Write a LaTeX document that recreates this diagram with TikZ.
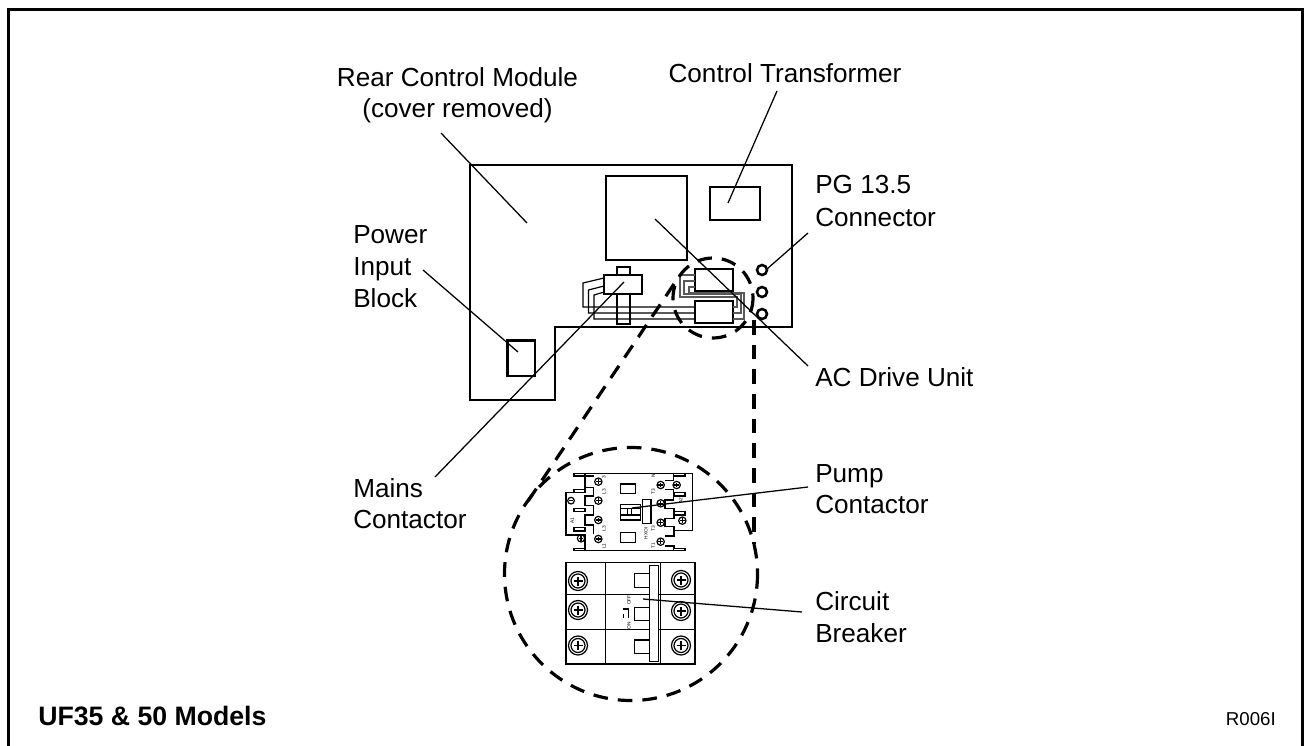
\documentclass[tikz,border=0pt]{standalone}
\usepackage{fontspec}
\setmainfont{Liberation Sans}
\tikzset{
  x=0.75pt,y=-0.75pt,
  heavy/.style={draw,line width=2pt,line join=miter},
  leader/.style={draw,line width=0.95pt},
  thin wire/.style={draw,line width=0.9pt},
  grey wire/.style={draw=black!65,line width=1pt},
  dash line/.style={draw,line width=2.4pt,dash pattern=on 11pt off 7.5pt},
  lab/.style={inner sep=0pt,anchor=base west,font=\fontsize{19.6}{20}\selectfont},
  labc/.style={inner sep=0pt,anchor=base,font=\fontsize{19.6}{20}\selectfont},
  fine/.style={draw,line width=0.9pt},
  fine2/.style={draw,line width=1.2pt},
  tiny/.style={inner sep=0pt,font=\fontsize{3.6}{4}\selectfont},
}
\newcommand{\bscrew}[2]{\draw[fine] (#1,#2) circle (9.5); \draw[fine] (#1,#2) circle (7); \draw[fine] (#1-4.5,#2)--(#1+4.5,#2) (#1,#2-4.5)--(#1,#2+4.5);}
\begin{document}
\begin{tikzpicture}
\useasboundingbox (0,0) rectangle (1304,746);
\draw[line width=2.3pt] (8.5,750)--(8.5,9.5)--(1302.5,9.5)--(1302.5,750);

% module
\draw[heavy] (470,165)--(792,165)--(792,327)--(555,327)--(555,400)--(470,400)--cycle;
\draw[heavy] (606,176) rectangle (687,260);
\draw[heavy] (710,187) rectangle (760,220);
\draw[heavy] (507.5,340.5) rectangle (535,376);
\draw[heavy,line width=1.9pt] (762,270) circle (5);
\draw[heavy,line width=1.9pt] (762,292) circle (5);
\draw[heavy,line width=1.9pt] (762,314) circle (5);
% mains contactor
\draw[heavy] (617,267) rectangle (630,275);
\draw[heavy] (604,275) rectangle (642,294);
\draw[heavy] (617,294) rectangle (630,324);
% wires left
\draw[thin wire] (604,278)--(583,283)--(583,307)--(695,307);
\draw[thin wire] (604,286)--(588.5,290)--(588.5,313)--(695,313);
\draw[thin wire] (604,292)--(594,295)--(594,319)--(695,319);
% small boxes
\draw[heavy] (695,269) rectangle (733,291);
\draw[heavy] (695,301) rectangle (733,323);
% wires right
\draw[grey wire] (695,275)--(680,275)--(680,297)--(737,297)--(737,307)--(733,307);
\draw[grey wire] (695,281)--(684,281)--(684,294)--(741,294)--(741,313)--(733,313);
\draw[grey wire] (695,287)--(689,287)--(689,293)--(744,293)--(744,319)--(733,319);
% dashed
\draw[dash line] (713,298) circle (40);
\draw[dash line] (631,574) circle (126.5);
\draw[dash line] (674,284)--(524,507);
\draw[dash line] (754,320)--(754,544);

% contactor
\begin{scope}[shift={(550,460)},x=0.25pt,y=-0.25pt]
\draw[fine] (72,40)--(428,40)--(428,212)--(372,212);
\draw[fine] (72,272)--(405,272);
\draw[fine] (72,40) rectangle (105,48);
\draw[fine] (72,265) rectangle (105,272);
\draw[fine] (370,40) rectangle (405,48);
\draw[fine] (370,265) rectangle (405,272);
\draw[fine] (105,48)--(105,97)--(48,97)--(48,225)--(105,225)--(105,265);
\draw[fine] (72,88) rectangle (105,97);
\draw[fine] (72,145) rectangle (105,155);
\draw[fine] (72,203) rectangle (105,213);
\draw[fine] (105,48)--(133,48) (105,82)--(130,82)--(130,108)--(105,108)--(105,137)--(130,137)--(130,165)--(105,165)--(105,195)--(130,195)--(130,222);
\draw[fine] (370,48)--(370,62) (370,88)--(370,120)--(345,120)--(345,145)--(372,145)--(372,175)--(345,175)--(345,200)--(372,200)--(372,228)--(345,228) (345,258)--(372,258)--(372,265);
\draw[fine] (345,62)--(370,62) (345,88)--(370,88);
\draw[fine] (372,98) rectangle (405,108);
\draw[fine] (372,155) rectangle (405,165);
\foreach \p/\q in {145/65,145/122,145/180,145/237,93/235,332/75,380/75,332/130,332/188,332/245,397/182}{\draw[fine] (\p,\q) circle (11); \draw[fine] (\p-7,\q)--(\p+7,\q) (\p,\q-7)--(\p,\q+7);}
\draw[fine] (63,122) circle (10); \draw[fine] (56,122)--(70,122);
\draw[fine] (212,72) rectangle (256,100);
\draw[fine] (212,217) rectangle (256,247);
\draw[fine] (212,133) rectangle (272,180);
\draw[fine] (212,145)--(272,145) (212,165)--(272,165) (232,145)--(232,165) (245,145)--(245,165);
\draw[fine] (278,118) rectangle (303,190);
\node[tiny,rotate=90] (t0) at (288,220) {HXOI};
\node[tiny,rotate=90] (t1) at (162,50) {3};
\node[tiny,rotate=90] (t2) at (162,95) {L3};
\node[tiny,rotate=90] (t3) at (162,205) {L3};
\node[tiny,rotate=90] (t4) at (162,258) {L1};
\node[tiny,rotate=90] (t5) at (67,183) {A1};
\node[tiny,rotate=90] (t6) at (310,48) {N};
\node[tiny,rotate=90] (t7) at (310,95) {T3};
\node[tiny,rotate=90] (t8) at (310,205) {T3};
\node[tiny,rotate=90] (t9) at (310,258) {T1};
\node[tiny,rotate=90] (t10) at (392,122) {A2};
\end{scope}

% breaker
\begin{scope}[shift={(550,555)},x=0.25pt,y=-0.25pt]
\draw[fine2] (48,22) rectangle (435,327);
\draw[fine2] (48,118)--(435,118) (48,224)--(435,224);
\draw[fine2] (166,22)--(166,327) (331,22)--(331,327);
\draw[fine2,fill=white] (299,31) rectangle (325,320);
\draw[fine2] (253,55) rectangle (299,98);
\draw[fine2] (253,157) rectangle (299,197);
\draw[fine2] (253,255) rectangle (299,295);
\node[tiny,rotate=90] (b0) at (237,135) {OFF};
\node[tiny,rotate=90] (b1) at (237,213) {ON};
\draw[fine] (220,162)--(236,162) (220,190)--(220,178) (236,160)--(236,190);
\end{scope}
\bscrew{578}{581}\bscrew{578}{610}\bscrew{578}{645.5}
\bscrew{681}{580}\bscrew{681}{611}\bscrew{681}{645.5}

% leaders
\coordinate (rearA) at (441,133); \coordinate (rearB) at (527,223);
\coordinate (ctA) at (777,91); \coordinate (ctB) at (728,203);
\coordinate (pgA) at (808,233); \coordinate (pgB) at (767,269);
\coordinate (acA) at (655,219); \coordinate (acB) at (808,366);
\coordinate (piA) at (423,270); \coordinate (piB) at (518,352);
\coordinate (mcA) at (624,282); \coordinate (mcB) at (435,477);
\coordinate (puA) at (632,508); \coordinate (puB) at (808,487);
\coordinate (cbA) at (643,599); \coordinate (cbB) at (802,612);
\draw[leader] (rearA)--(rearB);
\draw[leader] (ctA)--(ctB);
\draw[leader] (pgA)--(pgB);
\draw[leader] (acA)--(acB);
\draw[leader] (piA)--(piB);
\draw[leader] (mcA)--(mcB);
\draw[leader] (puA)--(puB);
\draw[leader] (cbA)--(cbB);

% labels
\node[labc] (l1) at (457.5,86) {Rear Control Module};
\node[labc] (l2) at (457.5,117) {(cover removed)};
\node[labc] (l3) at (785,82) {Control Transformer};
\node[lab] (l4) at (815,193) {PG 13.5};
\node[lab] (l5) at (815,226) {Connector};
\node[lab] (l6) at (353,243) {Power};
\node[lab] (l7) at (353,275) {Input};
\node[lab] (l8) at (353,307) {Block};
\node[lab] (l9) at (815,386) {AC Drive Unit};
\node[lab] (l10) at (353,497) {Mains};
\node[lab] (l11) at (353,528) {Contactor};
\node[lab] (l12) at (815,482) {Pump};
\node[lab] (l13) at (815,513) {Contactor};
\node[lab] (l14) at (815,610) {Circuit};
\node[lab] (l15) at (815,642) {Breaker};
\node[lab,font=\fontsize{20}{22}\selectfont\bfseries] (l16) at (38,725) {UF35 \& 50 Models};
\node[inner sep=0pt,anchor=base east,font=\fontsize{14}{16}\selectfont] (l17) at (1276,725) {R006I};
\end{tikzpicture}
\end{document}
